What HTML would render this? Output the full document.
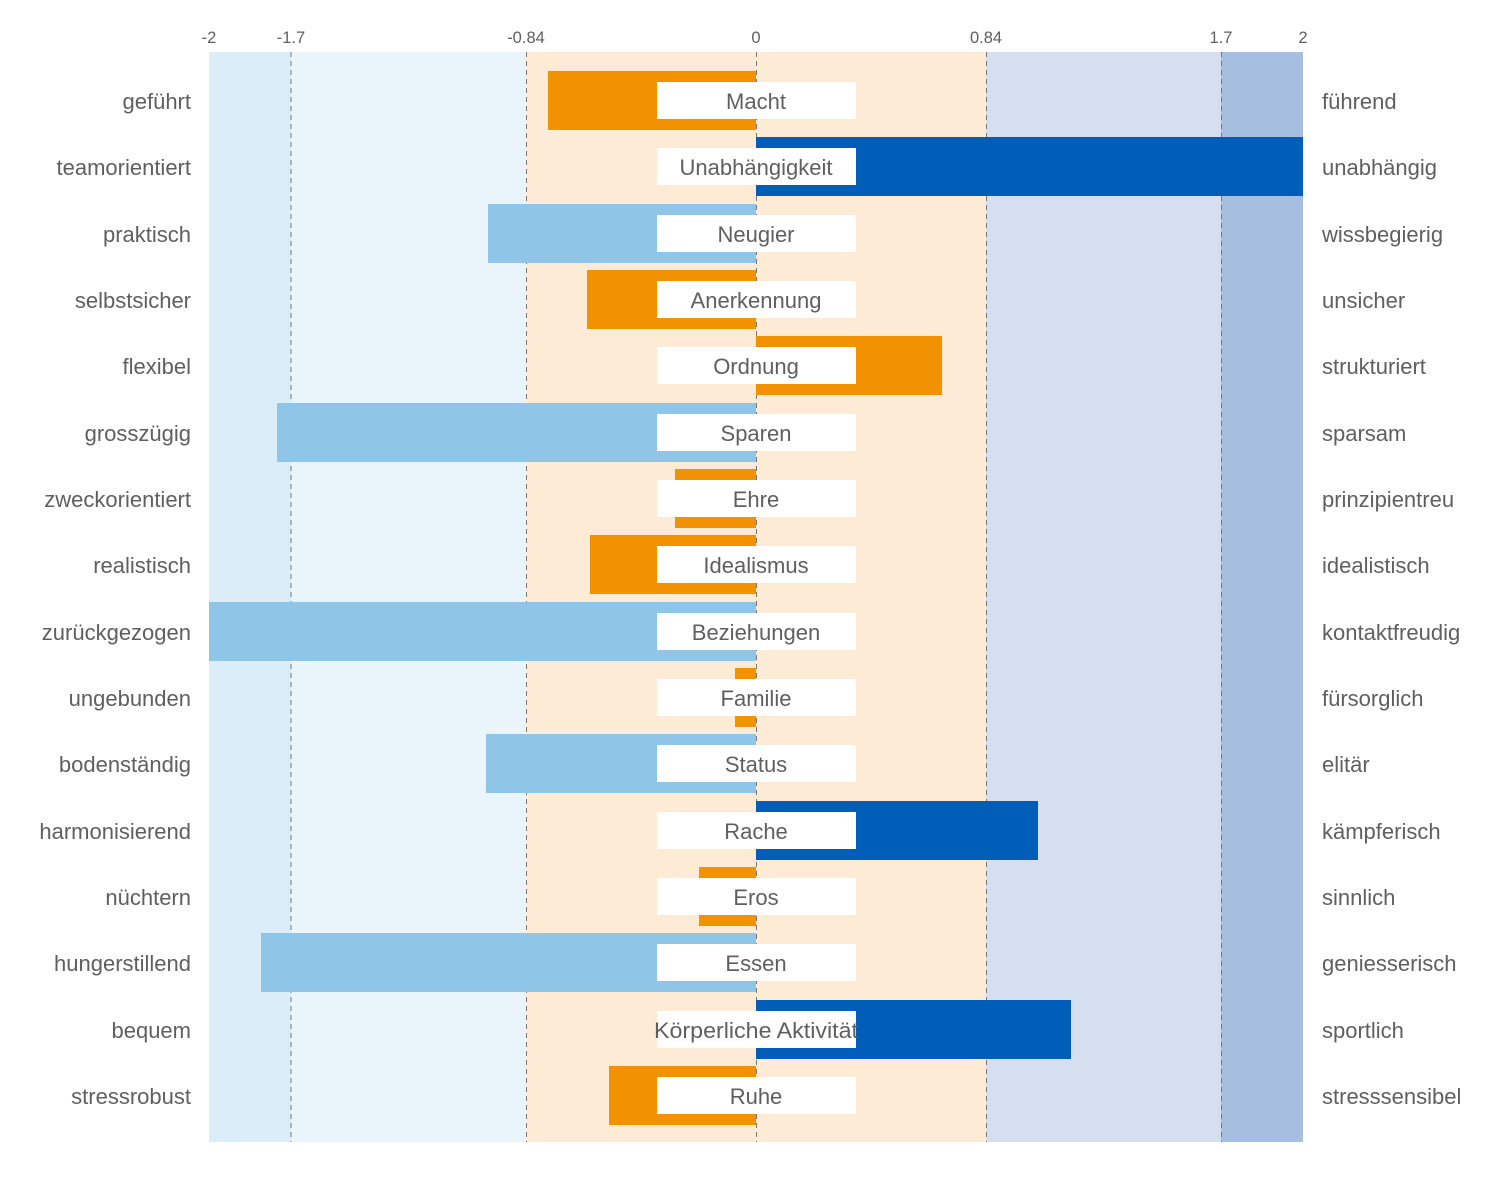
<!DOCTYPE html>
<html><head><meta charset="utf-8"><style>body{margin:0;background:#fff}svg{display:block}text{font-family:"Liberation Sans",sans-serif;fill:#5f5f5f}</style></head><body>
<svg width="1500" height="1181" xmlns="http://www.w3.org/2000/svg">
<rect x="209" y="52" width="82" height="1090" fill="#daedf8"/>
<rect x="291" y="52" width="235" height="1090" fill="#eaf5fb"/>
<rect x="526" y="52" width="460" height="1090" fill="#fdebd5"/>
<rect x="986" y="52" width="235" height="1090" fill="#d6dff0"/>
<rect x="1221" y="52" width="82" height="1090" fill="#a6bee0"/>
<g stroke="#777" stroke-dasharray="5,4" stroke-width="1">
<line x1="291" y1="52" x2="291" y2="1142"/><line x1="526.5" y1="52" x2="526.5" y2="1142"/><line x1="756.5" y1="52" x2="756.5" y2="1142"/><line x1="986.5" y1="52" x2="986.5" y2="1142"/><line x1="1221.5" y1="52" x2="1221.5" y2="1142"/>
</g>
<g font-size="16.5" text-anchor="middle">
<text x="209" y="43">-2</text><text x="291" y="43">-1.7</text><text x="526" y="43">-0.84</text><text x="756" y="43">0</text><text x="986" y="43">0.84</text><text x="1221" y="43">1.7</text><text x="1303" y="43">2</text>
</g>
<g>
<rect x="548" y="71" width="208" height="59" fill="#f29200"/>
<rect x="756" y="137" width="547" height="59" fill="#005eb8"/>
<rect x="488" y="204" width="268" height="59" fill="#8fc6e7"/>
<rect x="587" y="270" width="169" height="59" fill="#f29200"/>
<rect x="756" y="336" width="186" height="59" fill="#f29200"/>
<rect x="277" y="403" width="479" height="59" fill="#8fc6e7"/>
<rect x="675" y="469" width="81" height="59" fill="#f29200"/>
<rect x="590" y="535" width="166" height="59" fill="#f29200"/>
<rect x="209" y="602" width="547" height="59" fill="#8fc6e7"/>
<rect x="735" y="668" width="21" height="59" fill="#f29200"/>
<rect x="486" y="734" width="270" height="59" fill="#8fc6e7"/>
<rect x="756" y="801" width="282" height="59" fill="#005eb8"/>
<rect x="699" y="867" width="57" height="59" fill="#f29200"/>
<rect x="261" y="933" width="495" height="59" fill="#8fc6e7"/>
<rect x="756" y="1000" width="315" height="59" fill="#005eb8"/>
<rect x="609" y="1066" width="147" height="59" fill="#f29200"/>
</g>
<g fill="#fff">
<rect x="657" y="82" width="199" height="37"/><rect x="657" y="148" width="199" height="37"/><rect x="657" y="215" width="199" height="37"/><rect x="657" y="281" width="199" height="37"/><rect x="657" y="347" width="199" height="37"/><rect x="657" y="414" width="199" height="37"/><rect x="657" y="480" width="199" height="37"/><rect x="657" y="546" width="199" height="37"/><rect x="657" y="613" width="199" height="37"/><rect x="657" y="679" width="199" height="37"/><rect x="657" y="745" width="199" height="37"/><rect x="657" y="812" width="199" height="37"/><rect x="657" y="878" width="199" height="37"/><rect x="657" y="944" width="199" height="37"/><rect x="657" y="1011" width="199" height="37"/><rect x="657" y="1077" width="199" height="37"/>
</g>
<g font-size="22" text-anchor="middle">
<text x="756" y="109">Macht</text><text x="756" y="175">Unabhängigkeit</text><text x="756" y="242">Neugier</text><text x="756" y="308">Anerkennung</text><text x="756" y="374">Ordnung</text><text x="756" y="441">Sparen</text><text x="756" y="507">Ehre</text><text x="756" y="573">Idealismus</text><text x="756" y="640">Beziehungen</text><text x="756" y="706">Familie</text><text x="756" y="772">Status</text><text x="756" y="839">Rache</text><text x="756" y="905">Eros</text><text x="756" y="971">Essen</text><text x="756" y="1038" textLength="204" lengthAdjust="spacingAndGlyphs">Körperliche Aktivität</text><text x="756" y="1104">Ruhe</text>
</g>
<g font-size="22" text-anchor="end">
<text x="191" y="109">geführt</text><text x="191" y="175">teamorientiert</text><text x="191" y="242">praktisch</text><text x="191" y="308">selbstsicher</text><text x="191" y="374">flexibel</text><text x="191" y="441">grosszügig</text><text x="191" y="507">zweckorientiert</text><text x="191" y="573">realistisch</text><text x="191" y="640">zurückgezogen</text><text x="191" y="706">ungebunden</text><text x="191" y="772">bodenständig</text><text x="191" y="839">harmonisierend</text><text x="191" y="905">nüchtern</text><text x="191" y="971">hungerstillend</text><text x="191" y="1038">bequem</text><text x="191" y="1104">stressrobust</text>
</g>
<g font-size="22">
<text x="1322" y="109">führend</text><text x="1322" y="175">unabhängig</text><text x="1322" y="242">wissbegierig</text><text x="1322" y="308">unsicher</text><text x="1322" y="374">strukturiert</text><text x="1322" y="441">sparsam</text><text x="1322" y="507">prinzipientreu</text><text x="1322" y="573">idealistisch</text><text x="1322" y="640">kontaktfreudig</text><text x="1322" y="706">fürsorglich</text><text x="1322" y="772">elitär</text><text x="1322" y="839">kämpferisch</text><text x="1322" y="905">sinnlich</text><text x="1322" y="971">geniesserisch</text><text x="1322" y="1038">sportlich</text><text x="1322" y="1104">stresssensibel</text>
</g>
</svg>
</body></html>
